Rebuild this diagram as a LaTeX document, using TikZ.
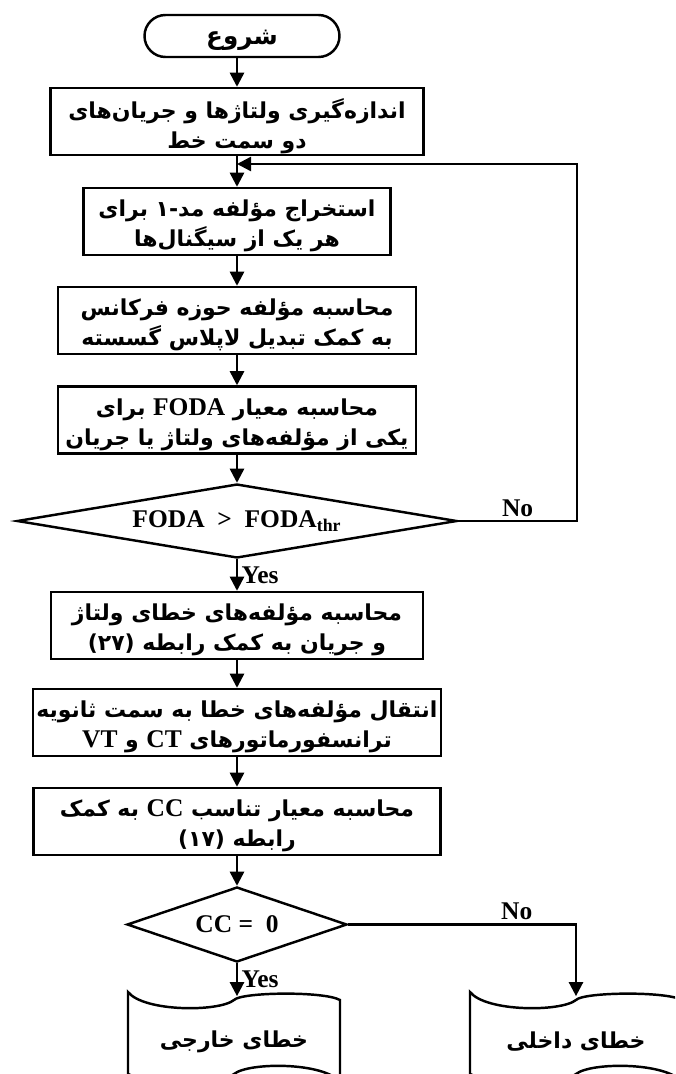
\documentclass[tikz,border=0pt]{standalone}
\usepackage{fontspec}
\setmainfont{Liberation Serif}
\newfontfamily\farsifont[Script=Arabic]{DejaVu Sans}
\TeXXeTstate=1
\usetikzlibrary{shapes.geometric, arrows.meta, positioning}

\newcommand{\fa}[1]{\raisebox{-2.5pt}[\height][\depth]{\farsifont\beginR #1\endR}}
\newcommand{\en}[1]{{\rmfamily\fontsize{14.5}{17}\selectfont #1}}
% wavy output outline round a named node
\newcommand{\tapeoutline}[1]{%
  \draw[line width=1.4pt, shift={(#1.center)}]
    (-2.12,0.9) .. controls (-1.8,0.5) and (-0.3,0.5) .. (0,0.74)
    .. controls (0.15,0.9) and (1.8,0.92) .. (2.12,0.74)
    -- (2.12,-0.9) .. controls (1.8,-0.5) and (0.3,-0.5) .. (0,-0.74)
    .. controls (-0.15,-0.9) and (-1.8,-0.92) .. (-2.12,-0.74) -- cycle;}

\begin{document}
\begin{tikzpicture}[
  box/.style = {
    rectangle, draw, line width=1.4pt,
    minimum height=1.34cm, inner sep=2pt,
    align=center, font=\fontsize{12.5}{17}\selectfont\bfseries
  },
  term/.style = {
    rectangle, rounded corners=0.42cm, draw, line width=1.4pt,
    minimum width=3.9cm, minimum height=0.84cm,
    font=\fontsize{14}{17}\selectfont\bfseries
  },
  decision/.style = {
    diamond, draw, line width=1.4pt, inner sep=0pt,
    font=\fontsize{14.5}{17}\selectfont\bfseries
  },
  result/.style = {
    rectangle, minimum width=4.24cm, minimum height=1.62cm,
    font=\fontsize{12.5}{17}\selectfont\bfseries
  },
  arrow/.style = {-{Triangle[length=8pt, width=8pt]}, line width=1.4pt},
  lbl/.style = {font=\fontsize{14.5}{17}\selectfont\bfseries, inner sep=2pt}
]

\clip (-4.74,0) rectangle (8.76,-21.48);

% Start
\node[term] (start) at (0.1,-0.72) {\fa{شروع}};

% Measurement and mode-1 extraction
\node[box, minimum width=7.46cm] (measure) at (0,-2.43)
  {\fa{اندازه^^^^200cگیری ولتاژها و جریان^^^^200cهای}\\\fa{دو سمت خط}};
\node[box, minimum width=6.14cm] (mode) at (0,-4.43)
  {\fa{استخراج مؤلفه مد-۱ برای}\\\fa{هر یک از سیگنال^^^^200cها}};
\node[box, minimum width=7.16cm] (laplace) at (0,-6.41)
  {\fa{محاسبه مؤلفه حوزه فرکانس}\\\fa{به کمک تبدیل لاپلاس گسسته}};
\node[box, minimum width=7.16cm] (foda) at (0,-8.4)
  {\fa{محاسبه معیار \en{FODA} برای}\\\fa{یکی از مؤلفه^^^^200cهای ولتاژ یا جریان}};

\draw[arrow] (start.south -| measure.north) -- (measure.north);
\draw[arrow] (measure) -- (mode);
\draw[arrow] (mode) -- (laplace);
\draw[arrow] (laplace) -- (foda);

% First decision
\node[decision, aspect=5.9, minimum width=8.8cm, minimum height=1.48cm] (check1) at (0,-10.42)
  {FODA~~>~~FODA\textsubscript{thr}};
\draw[arrow] (foda) -- (check1);

\coordinate (loop) at (6.8,-3.28);
\draw[arrow] (check1.east) -- node[lbl, above] {No} (check1.east -| loop)
  -- (loop) -- (measure.south |- loop);

% Fault components
\node[box, minimum width=7.44cm] (fault) at (0,-12.51)
  {\fa{محاسبه مؤلفه^^^^200cهای خطای ولتاژ}\\\fa{و جریان به کمک رابطه (۲۷)}};
\node[box, minimum width=8.14cm] (transfer) at (0,-14.45)
  {\fa{انتقال مؤلفه^^^^200cهای خطا به سمت ثانویه}\\\fa{ترانسفورماتورهای \en{CT} و \en{VT}}};
\node[box, minimum width=8.14cm] (corr) at (0,-16.43)
  {\fa{محاسبه معیار تناسب \en{CC} به کمک}\\\fa{رابطه (۱۷)}};

\draw[arrow] (check1) -- node[lbl, right] {Yes} (fault);
\draw[arrow] (fault) -- (transfer);
\draw[arrow] (transfer) -- (corr);

% Second decision
\node[decision, aspect=2.9, minimum width=4.4cm, minimum height=1.5cm] (check2) at (0,-18.49)
  {CC\ =\ \ 0};
\draw[arrow] (corr) -- (check2);

% Outputs
\node[result] (external) at (-0.06,-20.74) {\fa{خطای خارجی}};
\node[result] (internal) at (6.78,-20.74) {\fa{خطای داخلی}};
\tapeoutline{external}
\tapeoutline{internal}

\draw[arrow] (check2) -- node[lbl, right] {Yes} (check2.south |- external.north);
\draw[arrow] (check2.east) -| node[lbl, above, pos=0.37] {No} (internal.north);

\end{tikzpicture}
\end{document}
